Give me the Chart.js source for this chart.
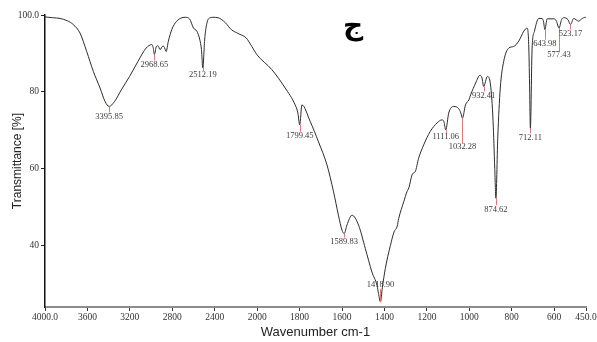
<!DOCTYPE html>
<html>
<head>
<meta charset="utf-8">
<script src="https://cdn.jsdelivr.net/npm/chart.js@4.4.1/dist/chart.umd.min.js"></script>
<style>
  html, body { margin: 0; padding: 0; background: #ffffff; }
  #wrap { width: 597px; height: 342px; }
</style>
</head>
<body>
<div id="wrap"><canvas id="ir" width="597" height="342"></canvas></div>
<script>
// FTIR spectrum: wavenumber (cm-1) against transmittance (%)
const wavenumbers = [
  4000, 3930, 3858, 3790, 3733, 3670, 3607, 3544, 3481, 3434, 3395.85, 3344, 3281, 3203, 3124,
  3046, 2993, 2980, 2968.65, 2950, 2935, 2915, 2890, 2878, 2858, 2837, 2805, 2758, 2679, 2638,
  2600, 2569, 2540, 2525, 2512.19, 2495, 2483, 2459, 2417, 2370, 2300, 2244, 2180, 2103, 2050,
  2003, 1931, 1868, 1821, 1808, 1799.45, 1789, 1750, 1711, 1671, 1640, 1617, 1600, 1589.83, 1577,
  1553, 1522, 1490, 1459, 1435, 1428, 1418.90, 1410, 1396, 1372, 1355, 1340, 1333, 1309, 1294,
  1285, 1270, 1260, 1255, 1239, 1215, 1184, 1152, 1129, 1120, 1111.06, 1097, 1073, 1050, 1040,
  1032.28, 1018, 1002, 994, 970, 950, 940, 932.41, 915, 900, 888, 880, 874.62, 866, 854,
  838, 814, 791, 767, 743, 728, 720, 716, 712.11, 704, 693, 673, 657, 650, 643.98,
  633, 602, 590, 577.43, 565, 555, 535, 523.17, 508, 485, 470, 454, 450
];
const transmittance = [
  99.5, 99.3, 99.1, 98.5, 97.5, 95.3, 90.5, 85.3, 81.0, 77.5, 76.2, 77.5, 80.5, 84.0, 87.9,
  91.4, 92.3, 91.5, 89.7, 91.8, 92.0, 91.0, 91.9, 91.8, 90.5, 93.2, 96.2, 98.4, 99.4, 99.0,
  96.6, 95.8, 93.5, 91.0, 86.2, 93.5, 96.5, 99.0, 99.4, 99.3, 98.0, 96.2, 95.2, 94.0, 91.8,
  89.7, 85.8, 81.0, 76.6, 74.5, 71.4, 76.6, 72.3, 67.0, 61.0, 54.0, 47.9, 44.0, 43.1, 45.3,
  47.9, 45.3, 39.2, 33.1, 29.6, 27.5, 25.3, 29.0, 34.0, 40.0, 43.5, 45.0, 47.0, 51.4, 54.0,
  55.0, 58.4, 59.0, 59.2, 62.7, 66.2, 69.7, 71.9, 72.7, 72.3, 70.1, 74.5, 76.2, 75.6, 74.5,
  73.2, 76.6, 77.9, 79.2, 82.3, 84.3, 83.6, 81.4, 84.0, 81.8, 72.3, 60.0, 52.3, 67.9, 81.0,
  87.9, 91.4, 91.8, 93.2, 95.8, 96.6, 92.3, 82.0, 70.5, 91.4, 95.8, 99.1, 99.1, 98.2, 96.2,
  99.0, 99.0, 98.5, 96.6, 98.8, 99.3, 98.8, 97.5, 99.1, 98.4, 99.0, 99.4, 99.3
];

// Marked absorption bands
const peakWavenumbers = [3395.85, 2968.65, 2512.19, 1799.45, 1589.83, 1418.90, 1111.06,
  1032.28, 932.41, 874.62, 712.11, 643.98, 577.43, 523.17];

// Axis ticks
const xTickValues = [4000, 3600, 3200, 2800, 2400, 2000, 1800, 1600, 1400, 1200, 1000, 800, 600, 450];
const xTickLabels = ['4000.0', '3600', '3200', '2800', '2400', '2000', '1800', '1600', '1400', '1200', '1000', '800', '600', '450.0'];
const yTickValues = [40, 60, 80, 100];
const yTickLabels = ['40', '60', '80', '100.0'];

const sampleMark = 'ج';

// Wavenumber axis with the usual FTIR scale change: above the break the
// spacing is compressed by a factor of two.
const AXIS_BREAK = 2000;
const HIGH_COMPRESSION = 2;

class BrokenWavenumberScale extends Chart.LinearScale {
  static id = 'brokenWavenumber';
  static defaults = Chart.LinearScale.defaults;

  buildTicks() {
    return xTickValues.map(v => ({ value: v }));
  }
  _units(v) {
    const hi = this.max;
    const head = (hi - AXIS_BREAK) / HIGH_COMPRESSION;
    return v >= AXIS_BREAK ? (hi - v) / HIGH_COMPRESSION : head + (AXIS_BREAK - v);
  }
  getPixelForValue(v) {
    if (v === null || v === undefined) return NaN;
    return this.getPixelForDecimal(this._units(v) / this._units(this.min));
  }
  getValueForPixel(p) {
    const d = this.getDecimalForPixel(p) * this._units(this.min);
    const head = (this.max - AXIS_BREAK) / HIGH_COMPRESSION;
    return d <= head ? this.max - d * HIGH_COMPRESSION : AXIS_BREAK - (d - head);
  }
}
Chart.register(BrokenWavenumberScale);

// Peak markers and labels, placed relative to the band minimum
const labelShift = {
  '3395.85': 10, '2968.65': 10, '2512.19': 7, '1799.45': 11, '1589.83': 8,
  '1418.90': -17, '1111.06': 7, '1032.28': 29, '932.41': 9, '874.62': 11,
  '712.11': 9, '643.98': 14, '577.43': 27, '523.17': 9
};

const annotate = {
  id: 'annotate',
  afterDatasetsDraw(chart) {
    const { ctx, scales } = chart;
    const xs = scales.x, ys = scales.y;
    ctx.save();
    ctx.font = '8.5px "Liberation Serif", serif';
    ctx.textAlign = 'center';
    ctx.textBaseline = 'middle';
    peakWavenumbers.forEach(w => {
      const i = wavenumbers.indexOf(w);
      const label = w.toFixed(2);
      const px = xs.getPixelForValue(w);
      const py = ys.getPixelForValue(transmittance[i]);
      const shift = labelShift[label];
      const ly = py + shift;
      ctx.strokeStyle = '#e07a7a';
      ctx.lineWidth = 1;
      ctx.beginPath();
      ctx.moveTo(Math.round(px) + 0.5, py);
      ctx.lineTo(Math.round(px) + 0.5, shift > 0 ? ly - 4 : ly + 4);
      ctx.stroke();
      ctx.fillStyle = '#3a3a3a';
      ctx.fillText(label, px, ly);
    });
    ctx.font = 'bold 28px "DejaVu Sans", sans-serif';
    ctx.fillStyle = '#000';
    ctx.fillText(sampleMark, 353, 27);
    ctx.restore();
  }
};

new Chart(document.getElementById('ir'), {
  type: 'line',
  data: {
    datasets: [{
      data: wavenumbers.map((w, i) => ({ x: w, y: transmittance[i] })),
      borderColor: '#2b2b2b',
      borderWidth: 1,
      pointRadius: 0,
      cubicInterpolationMode: 'monotone',
      fill: false
    }]
  },
  options: {
    responsive: false,
    animation: false,
    devicePixelRatio: 1,
    layout: { padding: { left: 0, right: 11, top: 15, bottom: 0 } },
    plugins: { legend: { display: false }, tooltip: { enabled: false } },
    scales: {
      x: {
        type: 'brokenWavenumber',
        min: 450,
        max: 4000,
        grid: { drawOnChartArea: false, drawTicks: true, tickLength: 4, color: '#333' },
        border: { display: true, color: '#8c8c8c', width: 2 },
        ticks: {
          autoSkip: false,
          maxRotation: 0,
          padding: 1,
          color: '#333',
          font: { family: '"Liberation Serif", serif', size: 9.5 },
          callback: (v, i) => xTickLabels[i]
        },
        title: {
          display: true,
          text: 'Wavenumber cm-1',
          color: '#222',
          font: { family: '"Liberation Sans", Arial, sans-serif', size: 13 },
          padding: { top: 0, bottom: 2 }
        },
        afterFit(s) { s.height = 35; s.paddingLeft = 0; s.paddingRight = 0; }
      },
      y: {
        min: 24,
        max: 100,
        afterBuildTicks(s) { s.ticks = yTickValues.map(v => ({ value: v })); },
        grid: { drawOnChartArea: false, drawTicks: true, tickLength: 4, color: '#222' },
        border: { display: true, color: '#111', width: 1.5 },
        ticks: {
          padding: 2,
          color: '#333',
          font: { family: '"Liberation Serif", serif', size: 9.5 },
          callback: (v, i) => yTickLabels[i]
        },
        title: {
          display: true,
          text: 'Transmittance [%]',
          color: '#222',
          font: { family: '"Liberation Sans", Arial, sans-serif', size: 12 },
          padding: { top: 10, bottom: 0 }
        },
        afterFit(s) { s.width = 45; s.paddingTop = 0; s.paddingBottom = 0; }
      }
    }
  },
  plugins: [annotate]
});
</script>
</body>
</html>
